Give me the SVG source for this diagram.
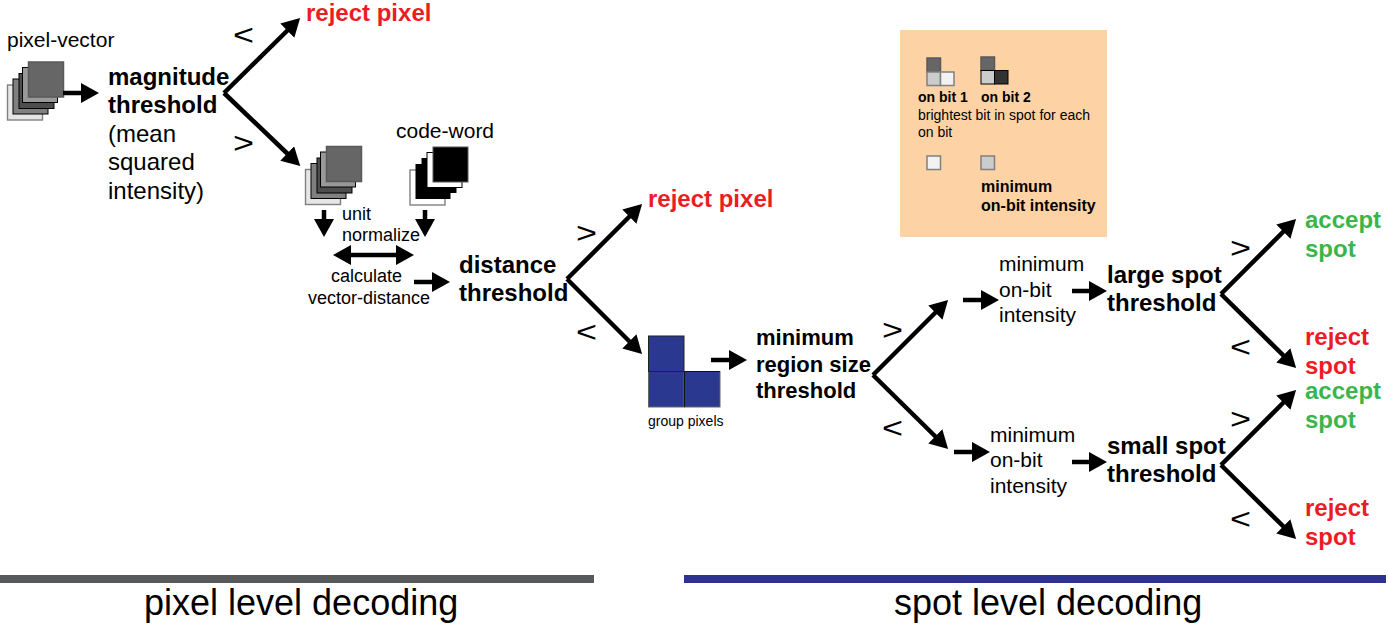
<svg xmlns="http://www.w3.org/2000/svg" width="1388" height="627" viewBox="0 0 1388 627">
<style>
text{font-family:"Liberation Sans",Arial,sans-serif;fill:#000}
.b{font-weight:bold}
.t{font-size:24px}
.r{font-size:22px}
.m{font-size:21px}
.n{font-size:18px}
.l{font-size:14px}
.lb{font-size:16px;font-weight:bold}
.red{fill:#ed1c24;font-weight:bold;font-size:24px}
.grn{fill:#39b54a;font-weight:bold;font-size:24px}
.cmp{font-size:30px}
.s{font-size:14px}
.h{font-size:36px}
.c{fill:none;stroke:#000;stroke-width:4.5;marker-end:url(#a)}
.px{fill:#2b388f;stroke:#666;stroke-width:1}
.q{stroke-width:1.5}
</style>
<defs>
<marker id="a" markerUnits="userSpaceOnUse" markerWidth="18" markerHeight="20" viewBox="0 0 18 20" refX="8" refY="10" orient="auto"><path d="M0 0L18 10L0 20Z" fill="#000"/></marker>
<marker id="as" markerUnits="userSpaceOnUse" markerWidth="18" markerHeight="20" viewBox="0 0 18 20" refX="10" refY="10" orient="auto"><path d="M18 0L0 10L18 20Z" fill="#000"/></marker>
<g id="stackGrey">
<rect x="0" y="23" width="35" height="35" fill="#e6e6e6" stroke="#808080" stroke-width="1.4"/>
<rect x="5.500" y="17" width="35" height="35" fill="#808080" stroke="#000" stroke-width="1"/>
<rect x="11.500" y="11.500" width="35" height="35" fill="#4d4d4d" stroke="#000" stroke-width="1"/>
<rect x="15" y="5.500" width="35" height="35" fill="#999" stroke="#000" stroke-width="1"/>
<rect x="21" y="0" width="35" height="35" fill="#666" stroke="#595959" stroke-width="1.5"/>
</g>
</defs>
<rect width="1388" height="627" fill="#fff"/>

<g id="pixel-vector">
<use href="#stackGrey" x="7.500" y="62"/>
<text x="7" y="47" class="m">pixel-vector</text>
</g>
<g id="magnitude-threshold">
<text x="108" y="85" class="t b">magnitude</text>
<text x="108" y="113" class="t b">threshold</text>
<text x="108" y="142" class="t">(mean</text>
<text x="108" y="170" class="t">squared</text>
<text x="108" y="199" class="t">intensity)</text>
</g>
<g id="reject-pixel-1"><text x="306" y="21" class="red">reject pixel</text></g>
<g id="normalized-vector">
<use href="#stackGrey" x="305.500" y="146.500"/>
<text x="342" y="220" class="n">unit</text>
<text x="342" y="241" class="n">normalize</text>
</g>
<g id="code-word">
<rect x="410" y="170" width="35" height="35" fill="#fff" stroke="#808080" stroke-width="1.4"/>
<rect x="415.500" y="164" width="35" height="35" fill="#000"/>
<rect x="421.500" y="158" width="35" height="35" fill="#000"/>
<rect x="427" y="152.500" width="35" height="35" fill="#fff" stroke="#000" stroke-width="1"/>
<rect x="433" y="147" width="35" height="35" fill="#000" stroke="#595959" stroke-width="1"/>
<text x="396" y="138" class="m">code-word</text>
</g>
<g id="calculate">
<text x="331" y="282" class="n">calculate</text>
<text x="308" y="304" class="n">vector-distance</text>
</g>
<g id="distance-threshold">
<text x="459" y="273" class="t b">distance</text>
<text x="459" y="301" class="t b">threshold</text>
</g>
<g id="reject-pixel-2"><text x="648" y="207" class="red">reject pixel</text></g>
<g id="group-pixels">
<rect x="648.500" y="371.500" width="35.500" height="35.500" class="px"/>
<rect x="684.500" y="371.500" width="35.500" height="35.500" class="px"/>
<rect x="648.500" y="336" width="35.500" height="35.500" fill="#2b388f" stroke="#222" stroke-width="1"/>
<path d="M684.500 371.500H720M684.500 371.500V407" fill="none" stroke="#111" stroke-width="1"/>
<text x="648" y="426" class="s">group pixels</text>
</g>
<g id="region-size-threshold">
<text x="756" y="345" class="r b">minimum</text>
<text x="756" y="372" class="r b">region size</text>
<text x="756" y="398" class="r b">threshold</text>
</g>
<g id="legend">
<rect x="900" y="30" width="207" height="207" fill="#fdd3a5"/>
<rect x="927" y="58" width="13.500" height="14" fill="#666" stroke="#595959" class="q"/>
<rect x="927" y="72" width="13.500" height="13.500" fill="#ccc" stroke="#808080" class="q"/>
<rect x="940.500" y="72" width="13.500" height="13.500" fill="#f2f2f2" stroke="#808080" class="q"/>
<rect x="981" y="57" width="13.500" height="13.500" fill="#666" stroke="#595959" class="q"/>
<rect x="981" y="70.500" width="13.500" height="13.500" fill="#ccc" stroke="#000" stroke-width="1"/>
<rect x="994.500" y="70.500" width="13.500" height="13.500" fill="#333" stroke="#000" stroke-width="1"/>
<text x="918" y="102" class="b l">on bit 1</text>
<text x="981" y="102" class="b l">on bit 2</text>
<text x="918" y="120" class="l">brightest bit in spot for each</text>
<text x="918" y="137" class="l">on bit</text>
<rect x="927" y="156" width="13.500" height="13.500" fill="#f2f2f2" stroke="#808080" class="q"/>
<rect x="981" y="156" width="13.500" height="13.500" fill="#ccc" stroke="#808080" class="q"/>
<text x="981" y="192" class="lb">minimum</text>
<text x="981" y="211" class="lb">on-bit intensity</text>
</g>
<g id="on-bit-top">
<text x="999" y="271" class="m">minimum</text>
<text x="999" y="297" class="m">on-bit</text>
<text x="999" y="322" class="m">intensity</text>
</g>
<g id="on-bit-bottom">
<text x="990" y="442" class="m">minimum</text>
<text x="990" y="467" class="m">on-bit</text>
<text x="990" y="493" class="m">intensity</text>
</g>
<g id="large-spot-threshold">
<text x="1107" y="283" class="t b">large spot</text>
<text x="1107" y="311" class="t b">threshold</text>
</g>
<g id="small-spot-threshold">
<text x="1107" y="454" class="t b">small spot</text>
<text x="1107" y="482" class="t b">threshold</text>
</g>
<g id="accept-1"><text x="1305" y="228" class="grn">accept</text><text x="1305" y="257" class="grn">spot</text></g>
<g id="reject-1"><text x="1305" y="345" class="red">reject</text><text x="1305" y="374" class="red">spot</text></g>
<g id="accept-2"><text x="1305" y="399" class="grn">accept</text><text x="1305" y="428" class="grn">spot</text></g>
<g id="reject-2"><text x="1305" y="516" class="red">reject</text><text x="1305" y="545" class="red">spot</text></g>

<g id="comparators">
<text transform="translate(233 45) scale(1.2 1)" class="cmp">&lt;</text>
<text transform="translate(233 153) scale(1.2 1)" class="cmp">&gt;</text>
<text transform="translate(576 243) scale(1.2 1)" class="cmp">&gt;</text>
<text transform="translate(576 342) scale(1.2 1)" class="cmp">&lt;</text>
<text transform="translate(882 340) scale(1.2 1)" class="cmp">&gt;</text>
<text transform="translate(882 438) scale(1.2 1)" class="cmp">&lt;</text>
<text transform="translate(1230 258) scale(1.2 1)" class="cmp">&gt;</text>
<text transform="translate(1230 357) scale(1.2 1)" class="cmp">&lt;</text>
<text transform="translate(1230 429) scale(1.2 1)" class="cmp">&gt;</text>
<text transform="translate(1230 529) scale(1.2 1)" class="cmp">&lt;</text>
</g>

<g id="connectors">
<path class="c" d="M63 93H89"/>
<path class="c" d="M224 93L293 25"/>
<path class="c" d="M224 93L293 159"/>
<path class="c" d="M324 210V227"/>
<path class="c" d="M425 210V227"/>
<path class="c" d="M343 255H404" style="marker-start:url(#as)"/>
<path class="c" d="M414 282H440"/>
<path class="c" d="M567 279L635 211"/>
<path class="c" d="M567 279L635 347"/>
<path class="c" d="M711 360H737"/>
<path class="c" d="M873 375L941 307"/>
<path class="c" d="M873 375L941 442"/>
<path class="c" d="M963 300H989"/>
<path class="c" d="M954 452H980"/>
<path class="c" d="M1072 291H1097"/>
<path class="c" d="M1072 462H1097"/>
<path class="c" d="M1221 294L1289 226"/>
<path class="c" d="M1221 294L1289 361"/>
<path class="c" d="M1221 465L1289 397"/>
<path class="c" d="M1221 465L1289 532"/>
</g>

<g id="pixel-level">
<rect x="0" y="575" width="594" height="8" fill="#58595b"/>
<text x="144" y="615" class="h">pixel level decoding</text>
</g>
<g id="spot-level">
<rect x="684" y="575" width="702" height="8" fill="#2e3192"/>
<text x="894" y="615" class="h">spot level decoding</text>
</g>
</svg>
